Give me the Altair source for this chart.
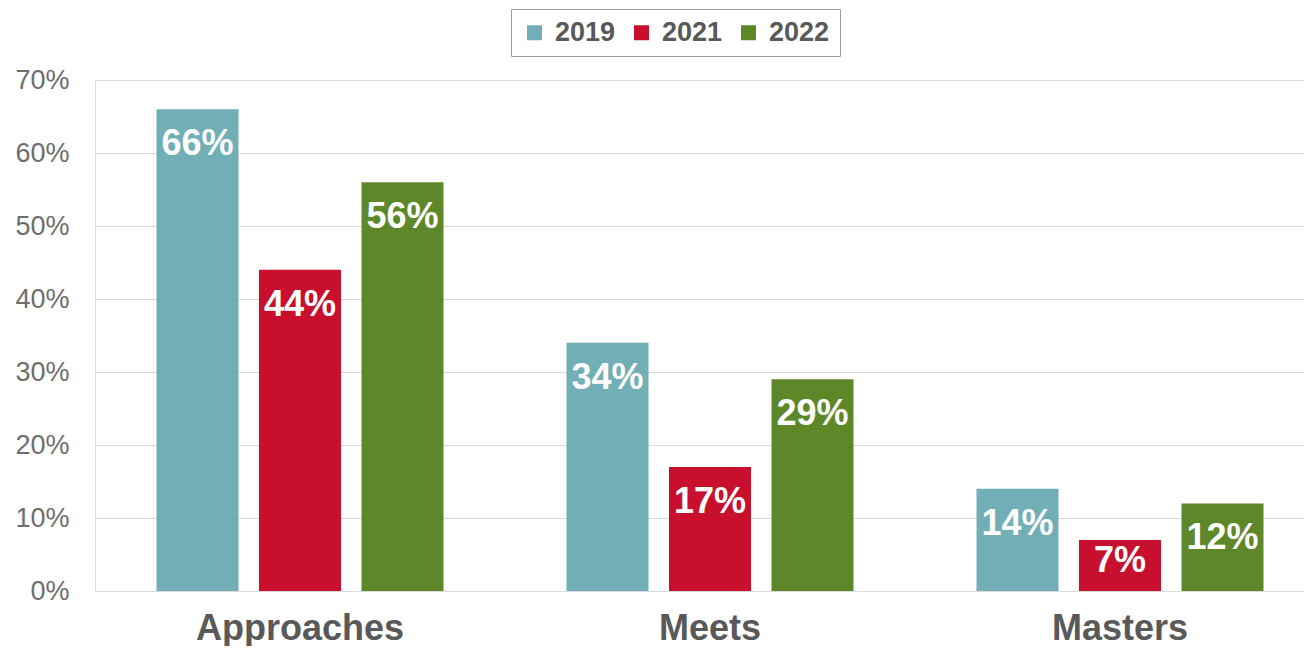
import altair as alt
import pandas as pd

levels = ["Approaches", "Meets", "Masters"]
years = ["2019", "2021", "2022"]
v2019 = [66, 34, 14]
v2021 = [44, 17, 7]
v2022 = [56, 29, 12]
colors = ["#72AEB6", "#C8102E", "#5E8729"]

rows = []
for yr, vals in zip(years, [v2019, v2021, v2022]):
    for lvl, v in zip(levels, vals):
        rows.append({"level": lvl, "year": yr, "value": v})
df = pd.DataFrame(rows)

x = alt.X("level:N", sort=levels,
          scale=alt.Scale(range=[0, 1230], paddingInner=0, paddingOuter=0),
          axis=alt.Axis(title=None, labelAngle=0, labelFont="Liberation Sans",
                        labelFontSize=36, labelFontWeight="bold", labelColor="#595959",
                        labelLimit=0, ticks=False, labelPadding=20, domainColor="#d9d9d9",
                        domainWidth=1, grid=False))
xo = alt.XOffset("year:N", sort=years,
                 scale=alt.Scale(paddingInner=0.2, paddingOuter=0.6))
y = alt.Y("value:Q", scale=alt.Scale(domain=[0, 70], nice=False),
          axis=alt.Axis(title=None, values=[0, 10, 20, 30, 40, 50, 60, 70],
                        labelExpr="datum.value + '%'", labelFont="Liberation Sans",
                        labelFontSize=27, labelColor="#6e6e6e", ticks=False,
                        domain=False, labelPadding=26, gridColor="#d9d9d9",
                        gridWidth=1))

bars = alt.Chart(df).mark_bar().encode(
    x=x, xOffset=xo, y=y,
    color=alt.Color("year:N", sort=years,
                    scale=alt.Scale(domain=years, range=colors),
                    legend=alt.Legend(title=None, orient="none", legendX=416, legendY=-71,
                                      direction="horizontal", symbolType="square",
                                      symbolSize=225, symbolStrokeWidth=0,
                                      labelFont="Liberation Sans", labelFontSize=27,
                                      labelFontWeight="bold", labelColor="#595959",
                                      labelOffset=7, columnPadding=12,
                                      strokeColor="#999999", fillColor="white",
                                      padding=10)),
)

labels = alt.Chart(df).transform_calculate(
    txt="datum.value + '%'",
    pos="datum.value < 10 ? datum.value - 4.4 : datum.value - 6.3",
).mark_text(font="Liberation Sans", fontSize=36, fontWeight="bold", color="white",
            baseline="alphabetic", align="center").encode(
    x=alt.X("level:N", sort=levels),
    xOffset=alt.XOffset("year:N", sort=years),
    y=alt.Y("pos:Q"),
    text="txt:N",
)

chart = alt.layer(bars, labels).properties(
    width=1209, height=511,
    padding={"left": 87, "top": 72, "right": 0, "bottom": 55},
    autosize=alt.AutoSizeParams(type="none"),
).configure_view(stroke=None).configure(background="white")

chart.save("out.html", embed_options={"renderer": "svg", "actions": False})
